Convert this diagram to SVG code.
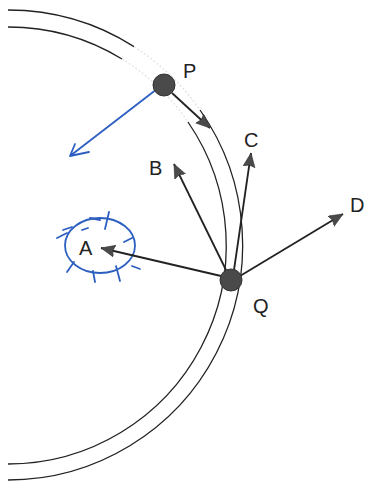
<svg xmlns="http://www.w3.org/2000/svg" width="365" height="481" viewBox="0 0 365 481">
<style>
.track{fill:none;stroke:#222;stroke-width:1.3}
.faint{fill:none;stroke:#e6e6e6;stroke-width:1.5;stroke-dasharray:2 2}
.arr{stroke:#222;stroke-width:1.8;fill:none}
.blue{stroke:#2d5fc0;stroke-width:1.8;fill:none;stroke-linecap:round}
.lbl{font-family:"Liberation Sans",Arial,sans-serif;font-size:20px;fill:#222}
.pt{fill:#4a4a4a;stroke:#333;stroke-width:1}
</style>
<defs>
<marker id="ah" markerUnits="userSpaceOnUse" markerWidth="16" markerHeight="14" refX="14" refY="6" orient="auto">
<path d="M0,0 L14,6 L0,12 L2,6 z" fill="#4a4a4a" stroke="#333" stroke-width="0.6"/>
</marker>
</defs>
<g id="track">
<path class="track" d="M8,10 A235,235 0 0 1 134,46.6"/>
<path class="track" d="M200,110 A235,235 0 0 1 8,480"/>
<path class="track" d="M8,27 A218.5,218.5 0 0 1 122,59"/>
<path class="track" d="M188,122 A218.5,218.5 0 0 1 8,464"/>
<path class="faint" d="M134,46.6 A235,235 0 0 1 200,110"/>
<path class="faint" d="M122,59 A218.5,218.5 0 0 1 188,122"/>
</g>
<g id="region-A">
<ellipse class="blue" cx="100" cy="245.5" rx="35" ry="27.5"/>
<path class="blue" d="M90,218 L100,220 M109,212 L105,229 M57,238 L67,233 M63,230 L72,227 M82,230 L88,228 M124,242 L132,238 M67,272 L74,262 M93,271 L95,282 M116,266 L120,281 M132,266 L140,269"/>
</g>
<g id="connectors">
<line class="arr" x1="172" y1="93" x2="210" y2="128" marker-end="url(#ah)"/>
<line class="arr" x1="221" y1="276" x2="101" y2="248" marker-end="url(#ah)"/>
<line class="arr" x1="226" y1="270" x2="174" y2="164" marker-end="url(#ah)"/>
<line class="arr" x1="234" y1="270" x2="251" y2="153" marker-end="url(#ah)"/>
<line class="arr" x1="240" y1="276" x2="343" y2="214" marker-end="url(#ah)"/>
<path class="blue" d="M157,89 L70,156 M70,156 L75,144 M70,156 L89,152"/>
</g>
<g id="P">
<circle class="pt" cx="164" cy="85" r="11"/>
<text class="lbl" x="183" y="78">P</text>
</g>
<g id="Q">
<circle class="pt" cx="231" cy="280" r="11"/>
<text class="lbl" x="253" y="313">Q</text>
</g>
<g id="A"><text class="lbl" x="79" y="255">A</text></g>
<g id="B"><text class="lbl" x="149" y="175">B</text></g>
<g id="C"><text class="lbl" x="244" y="147">C</text></g>
<g id="D"><text class="lbl" x="350" y="212">D</text></g>
</svg>
